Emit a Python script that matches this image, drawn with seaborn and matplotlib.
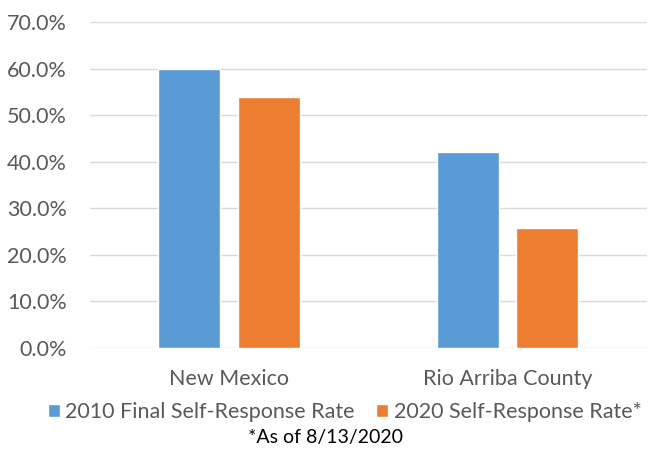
import pandas as pd
import matplotlib.pyplot as plt
import seaborn as sns
from matplotlib.ticker import PercentFormatter

# data
places = ["New Mexico", "Rio Arriba County"]
rate_2010 = [60.0, 42.0]
rate_2020 = [54.0, 25.7]
series_names = ["2010 Final Self-Response Rate", "2020 Self-Response Rate*"]
colors = ["#5B9BD5", "#ED7D31"]
text_gray = "#595959"

df = pd.DataFrame({
    "Place": places * 2,
    "Rate": rate_2010 + rate_2020,
    "Series": [series_names[0]] * 2 + [series_names[1]] * 2,
})

sns.set_theme(style="white")
plt.rcParams["font.family"] = ["Lato", "DejaVu Sans"]

fig = plt.figure(figsize=(6.5, 4.5), dpi=100)
ax = fig.add_axes([0.138, 0.227, 0.857, 0.724])

sns.barplot(data=df, x="Place", y="Rate", hue="Series", palette=colors,
            width=0.571, gap=0.225, ax=ax, saturation=1, legend=True)

ax.set_ylim(0, 70)
ax.set_xlim(-0.5, 1.5)
ax.set_yticks(range(0, 71, 10))
ax.yaxis.set_major_formatter(PercentFormatter(decimals=1))
ax.grid(axis="y", color="#D9D9D9", linewidth=1)
ax.set_axisbelow(True)
for s in ax.spines.values():
    s.set_visible(False)
ax.set_xlabel("")
ax.set_ylabel("")
ax.tick_params(axis="both", length=0, labelsize=15.5, colors=text_gray)
ax.tick_params(axis="y", pad=16.5)
ax.tick_params(axis="x", pad=15)

ax.legend(loc="center", bbox_to_anchor=(0.458, -0.196), ncol=2, frameon=False,
          fontsize=15.5, labelcolor=text_gray, handlelength=0.55, handleheight=0.55,
          handletextpad=0.25, columnspacing=1.0, borderaxespad=0, borderpad=0)

fig.text(0.5, 0.027, "*As of 8/13/2020", ha="center", va="center",
         fontsize=14, color="black")

fig.savefig("out.png", dpi=100)
